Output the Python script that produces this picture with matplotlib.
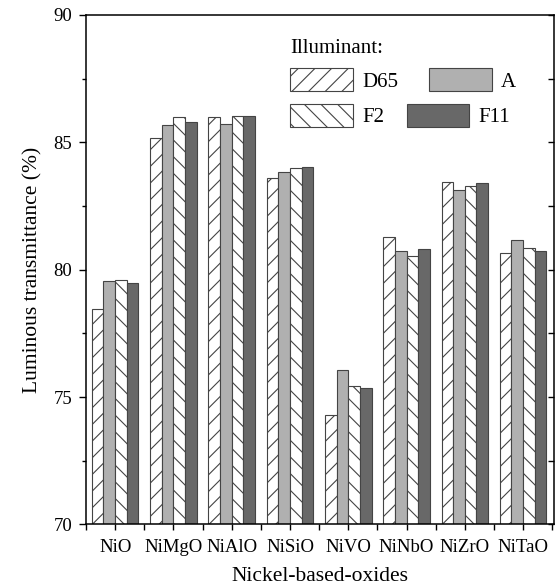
"""Luminous transmittance of nickel-based oxides under four illuminants"""
import numpy as np
import matplotlib
matplotlib.use('Agg')
import matplotlib.pyplot as plt
from matplotlib.patches import Patch
from matplotlib.ticker import MultipleLocator

oxides = ['NiO', 'NiMgO', 'NiAlO', 'NiSiO', 'NiVO', 'NiNbO', 'NiZrO', 'NiTaO']
d65 = [78.45, 85.18, 86.00, 83.60, 74.29, 81.30, 83.46, 80.64]
illum_a = [79.57, 85.67, 85.71, 83.83, 76.08, 80.74, 83.12, 81.18]
f2 = [79.60, 85.98, 86.05, 84.00, 75.42, 80.55, 83.27, 80.84]
f11 = [79.47, 85.81, 86.05, 84.04, 75.37, 80.80, 83.40, 80.72]

plt.rcParams['font.family'] = ['Liberation Serif', 'DejaVu Serif']
plt.rcParams['hatch.linewidth'] = 0.8

fig = plt.figure(figsize=(5.57, 5.88), dpi=100)
ax = fig.add_axes([0.1544, 0.108, 0.9946 - 0.1544, 0.9745 - 0.108])

x = np.arange(len(oxides))
w = 0.2
styles = [
    ('D65', d65, 'white', '//'),
    ('A', illum_a, '#b0b0b0', None),
    ('F2', f2, 'white', '\\\\'),
    ('F11', f11, '#686868', None),
]
handles = []
for i, (name, vals, color, hatch) in enumerate(styles):
    offs = (i - 1.5) * w
    ax.bar(x + offs, np.array(vals) - 70, w, bottom=70, color=color,
           edgecolor='#444444', linewidth=0.8, hatch=hatch)
    handles.append(Patch(facecolor=color, edgecolor='#444444', linewidth=0.8,
                         hatch=hatch, label=name))

ax.set_xlim(-0.5, 7.53)
ax.set_ylim(70, 90)
ax.set_xticks(x)
ax.set_xticklabels(oxides, fontsize=13.5)
ax.xaxis.set_minor_locator(MultipleLocator(1, offset=0.5))
ax.yaxis.set_major_locator(MultipleLocator(5))
ax.yaxis.set_minor_locator(MultipleLocator(2.5))
ax.tick_params(axis='y', which='both', direction='out', labelsize=13.5, pad=5,
               right=True, width=1.0)
ax.tick_params(axis='y', which='major', length=5)
ax.tick_params(axis='y', which='minor', length=3)
ax.tick_params(axis='x', which='both', direction='out', length=4.5, width=1.0, pad=6)
for sp in ax.spines.values():
    sp.set_linewidth(1.1)

# right-side ticks point inward
for t in ax.yaxis.get_major_ticks() + ax.yaxis.get_minor_ticks():
    t.tick2line.set_marker(matplotlib.lines.TICKLEFT)
    t.tick2line.set_markersize(4.5)

ax.set_ylabel('Luminous transmittance (%)', fontsize=15.5, labelpad=8)
ax.set_xlabel('Nickel-based-oxides', fontsize=15.5, labelpad=8)

leg_kw = dict(ncol=2, frameon=False, fontsize=15, loc='upper left',
              handlelength=3.0, handleheight=1.3, handletextpad=0.45,
              borderpad=0, borderaxespad=0)
leg1 = ax.legend(handles=handles[:2], title='Illuminant:', title_fontsize=15,
                 bbox_to_anchor=(0.436, 0.953), columnspacing=1.5, **leg_kw)
leg1._legend_box.align = 'left'
ax.add_artist(leg1)
ax.legend(handles=handles[2:], bbox_to_anchor=(0.436, 0.825),
          columnspacing=1.1, **leg_kw)

fig.savefig('out.png', dpi=100)
